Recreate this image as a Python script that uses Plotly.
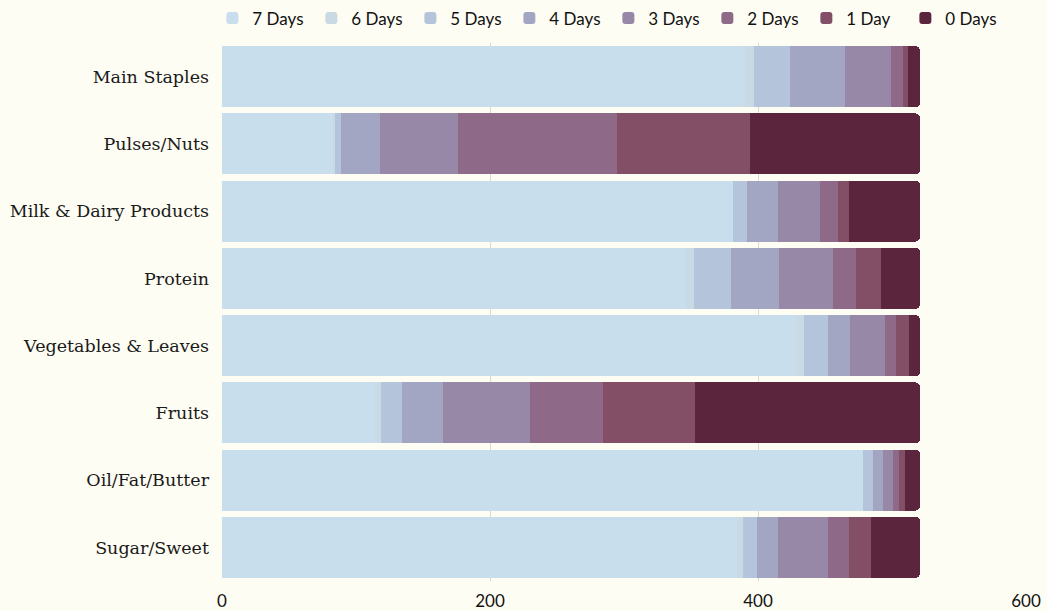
import plotly.graph_objects as go

categories = ["Main Staples", "Pulses/Nuts", "Milk & Dairy Products", "Protein",
              "Vegetables & Leaves", "Fruits", "Oil/Fat/Butter", "Sugar/Sweet"]

series_names = ["7 Days", "6 Days", "5 Days", "4 Days", "3 Days", "2 Days", "1 Day", "0 Days"]

days_7 = [390, 83, 381, 346, 428, 114, 478, 384]
days_6 = [7, 1, 0, 6, 6, 5, 0, 5]
days_5 = [27, 5, 11, 28, 18, 15, 8, 10]
days_4 = [41, 29, 23, 36, 17, 31, 7, 16]
days_3 = [34, 58, 31, 40, 26, 65, 8, 37]
days_2 = [9, 119, 14, 17, 8, 54, 4, 16]
days_1 = [4, 99, 8, 19, 10, 69, 5, 16]
days_0 = [9, 127, 53, 29, 8, 168, 11, 37]

series_values = [days_7, days_6, days_5, days_4, days_3, days_2, days_1, days_0]
colors = ["#c9deec", "#c9dae4", "#b3c4db", "#a2a6c3", "#9888a8", "#8e6a88", "#834f67", "#5b253e"]

x_ticks = [0, 200, 400, 600]

fig = go.Figure()
for name, vals, col in zip(series_names, series_values, colors):
    fig.add_trace(go.Bar(
        y=categories, x=vals, name=name, orientation="h",
        marker=dict(color=col, line=dict(width=0)),
    ))

bg = "#fefdf4"
fig.update_layout(
    barmode="stack",
    bargap=0.09,
    barcornerradius=5,
    width=1047, height=611,
    paper_bgcolor=bg, plot_bgcolor=bg,
    margin=dict(l=222, r=21, t=43, b=30, autoexpand=False),
    font=dict(family="Lato", color="#111111"),
    legend=dict(
        orientation="h", x=-0.012, xanchor="left", y=1.012, yanchor="bottom",
        font=dict(family="Lato", size=17, color="#111111"),
        entrywidth=54, entrywidthmode="pixels",
        bgcolor="rgba(0,0,0,0)", traceorder="normal",
    ),
    xaxis=dict(
        range=[0, 600], tickvals=x_ticks, ticktext=[str(v) for v in x_ticks],
        showgrid=True, gridcolor="#dcd9d1", gridwidth=1, zeroline=False,
        showline=False, tickfont=dict(family="Lato", size=17, color="#111111"),
        ticklabelstandoff=8,
        fixedrange=True, automargin=False,
    ),
    yaxis=dict(
        autorange="reversed", showgrid=False, zeroline=False, showline=False,
        tickfont=dict(family="DejaVu Serif", size=17.5, color="#1a1a1a"),
        ticklabelstandoff=12, automargin=False,
    ),
)

fig.write_html("out.html")
